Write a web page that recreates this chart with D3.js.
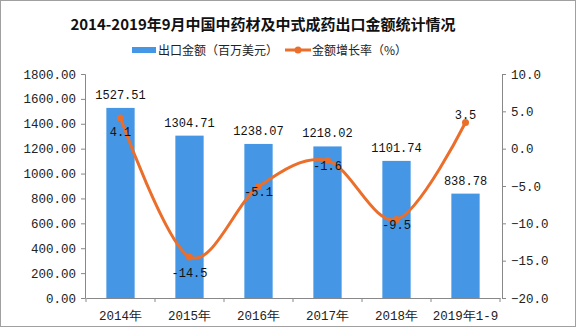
<!DOCTYPE html>
<html><head><meta charset="utf-8">
<script src="https://cdn.jsdelivr.net/npm/d3@7"></script>
<style>body{margin:0;background:#fff}svg{display:block}</style>
</head><body>
<script>
const categories = ["2014年","2015年","2016年","2017年","2018年","2019年1-9"];
const exportValues = [1527.51,1304.71,1238.07,1218.02,1101.74,838.78];
const growthRates = [4.1,-14.5,-5.1,-1.6,-9.5,3.5];
const leftTicks = [0,200,400,600,800,1000,1200,1400,1600,1800];
const rightTicks = [-20,-15,-10,-5,0,5,10];

const W=576,H=327;
const svg=d3.select("body").append("svg").attr("width",W).attr("height",H);
svg.append("rect").attr("x",0.5).attr("y",0.5).attr("width",W-1).attr("height",H-1).attr("fill","#fff").attr("stroke","#a0a0a0");

const mono="'Liberation Mono','DejaVu Sans Mono',monospace";
const cjk="'Noto Sans CJK SC',sans-serif";
const x=d3.scaleBand().domain(categories).range([86,500]).paddingInner(0.59).paddingOuter(0.295);
const yL=d3.scaleLinear().domain([0,1800]).range([298,74]);
const yR=d3.scaleLinear().domain([-20,10]).range([298,74]);

// title
svg.append("text").attr("x",263).attr("y",30).attr("text-anchor","middle")
  .attr("font-family",cjk).attr("font-weight","bold").attr("font-size",15).attr("fill","#111")
  .text("2014-2019年9月中国中药材及中式成药出口金额统计情况");

// legend
const blue="#4596E5", orange="#EB6E2A";
svg.append("rect").attr("x",132).attr("y",47).attr("width",24).attr("height",6).attr("fill",blue);
svg.append("text").attr("x",158).attr("y",55).attr("font-family",cjk).attr("font-size",12).attr("fill","#222").text("出口金额（百万美元）");
svg.append("line").attr("x1",285).attr("x2",311).attr("y1",50).attr("y2",50).attr("stroke",orange).attr("stroke-width",3);
svg.append("circle").attr("cx",298).attr("cy",50).attr("r",3.5).attr("fill",orange);
svg.append("text").attr("x",312).attr("y",55).attr("font-family",cjk).attr("font-size",12).attr("fill","#222").text("金额增长率（%）");

// axes
const axL=svg.append("g").attr("transform","translate(85,0)").call(d3.axisLeft(yL).tickValues(leftTicks).tickFormat(d3.format(".2f")).tickSize(4));
const axR=svg.append("g").attr("transform","translate(502,0)").call(d3.axisRight(yR).tickValues(rightTicks).tickFormat(d3.format(".1f")).tickSize(4));
const axB=svg.append("g").attr("transform","translate(0,298)").call(d3.axisBottom(x).tickSize(0).tickPadding(13));
[axL,axR].forEach(a=>{a.selectAll("text").attr("font-family",mono).attr("font-size",12.5).attr("fill","#222");});
axL.selectAll("text").attr("dx",-2);
axR.selectAll("text").attr("dx",2);
axB.selectAll("text").attr("font-family",mono).attr("font-size",12.5).attr("fill","#222");
svg.selectAll(".domain").attr("stroke","#888");
svg.selectAll(".tick line").attr("stroke","#888");
// bottom ticks at band boundaries
const bounds=categories.map(c=>x(c)-x.step()*x.paddingInner()/2).concat([500]);
bounds[0]=86;
svg.append("g").selectAll("line").data(bounds).join("line").attr("x1",d=>d).attr("x2",d=>d).attr("y1",298).attr("y2",302).attr("stroke","#888");

// bars
svg.append("g").selectAll("rect").data(exportValues).join("rect")
  .attr("x",(d,i)=>x(categories[i])).attr("width",x.bandwidth())
  .attr("y",d=>yL(d)).attr("height",d=>yL(0)-yL(d)).attr("fill",blue);
svg.append("g").selectAll("text").data(exportValues).join("text")
  .attr("x",(d,i)=>x(categories[i])+x.bandwidth()/2).attr("y",d=>yL(d)-9)
  .attr("text-anchor","middle").attr("font-family",mono).attr("font-size",12).attr("fill","#111")
  .text(d=>d.toFixed(2));

// line
const cx=(i)=>x(categories[i])+x.bandwidth()/2;
const line=d3.line().x((d,i)=>cx(i)).y(d=>yR(d)).curve(d3.curveCardinal.tension(0));
svg.append("path").datum(growthRates).attr("d",line).attr("fill","none").attr("stroke",orange).attr("stroke-width",3);
svg.append("g").selectAll("circle").data(growthRates).join("circle")
  .attr("cx",(d,i)=>cx(i)).attr("cy",d=>yR(d)).attr("r",3.5).attr("fill",orange);
const labelDy=[14,16,5,5,5,-8];
svg.append("g").selectAll("text").data(growthRates).join("text")
  .attr("x",(d,i)=>cx(i)).attr("y",(d,i)=>yR(d)+labelDy[i]+4)
  .attr("text-anchor","middle").attr("font-family",mono).attr("font-size",12).attr("fill","#111")
  .text(d=>d.toFixed(1));
</script>
</body></html>
